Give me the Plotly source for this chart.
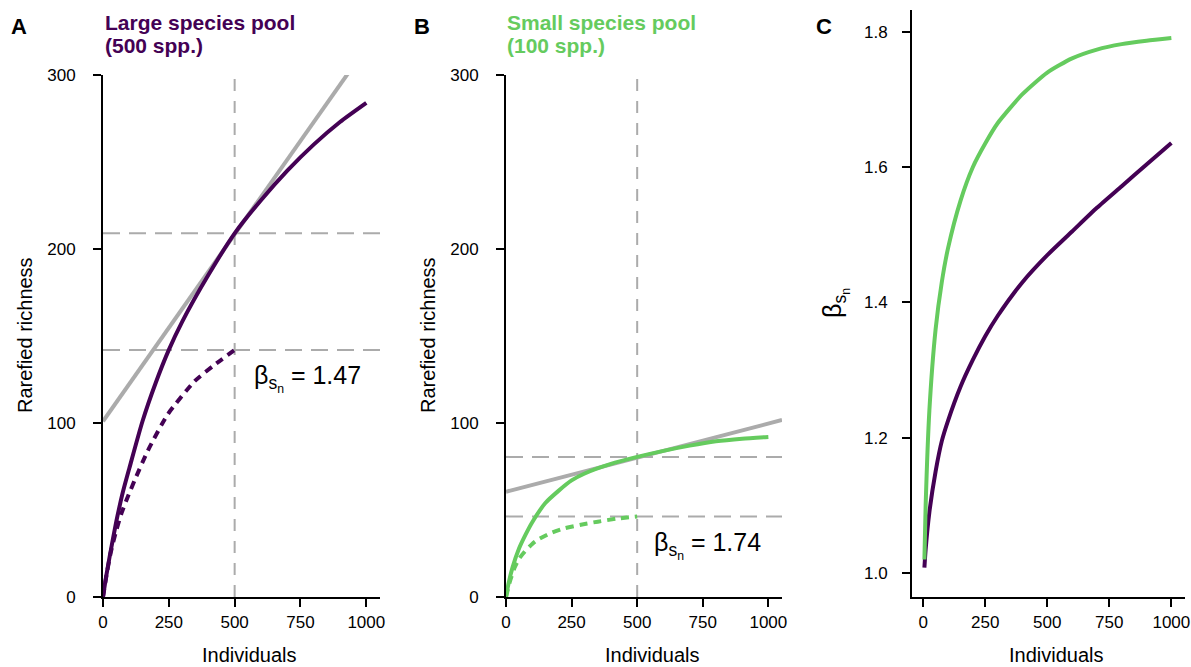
import plotly.graph_objects as go

W, H = 1191, 667
PURPLE = "#440154"
GREEN = "#65CB5E"
GRAY = "#ABABAB"
FONT = "Liberation Sans, Arial, sans-serif"

# ---------------- data ----------------
# Panel A: large species pool (500 spp.)
n_gamma_large = [0, 10, 25, 50, 75, 100, 150, 200, 250, 300, 400, 500, 600, 700, 800, 900, 1000]
gamma_large = [0, 10, 23, 43, 60, 74, 101, 123, 142, 158, 185, 209, 228, 245, 260, 273, 284]
n_alpha_large = [0, 15, 30, 50, 70, 90, 120, 170, 246, 348, 420, 500]
alpha_large = [0, 14, 26, 38, 48, 56, 67, 84, 105, 124, 133, 142]
tangent_large_x = [0, 1052]
tangent_large_y = [101, 327]
ref_large = [209, 142]

# Panel B: small species pool (100 spp.)
n_gamma_small = [0, 10, 25, 50, 75, 100, 150, 200, 250, 300, 400, 500, 600, 700, 800, 900, 1000]
gamma_small = [0, 8, 17, 28, 36, 43, 54, 61, 67, 71, 76.5, 80.5, 84, 87, 89.5, 91, 92]
n_alpha_small = [0, 15, 33, 50, 71, 100, 122, 175, 224, 300, 350, 420, 500]
alpha_small = [0, 9, 17, 22, 26, 30.5, 33, 37, 39.5, 42, 43.3, 45, 46.3]
tangent_small_x = [0, 1052]
tangent_small_y = [60.5, 101.7]
ref_small = [80.5, 46.3]

n_ref = 500
beta_labels = ["1.47", "1.74"]

# Panel C: beta diversity vs individuals
n_beta = [5, 10, 25, 50, 75, 100, 150, 200, 250, 300, 400, 500, 600, 700, 800, 900, 1000]
beta_large = [1.008, 1.035, 1.09, 1.15, 1.195, 1.225, 1.275, 1.315, 1.35, 1.38, 1.43, 1.47,
              1.505, 1.54, 1.572, 1.604, 1.636]
beta_small = [1.02, 1.1, 1.24, 1.36, 1.43, 1.48, 1.55, 1.6, 1.635, 1.665, 1.708, 1.74,
              1.761, 1.774, 1.782, 1.787, 1.791]

x_ticks = [0, 250, 500, 750, 1000]
rich_ticks = [0, 100, 200, 300]
beta_ticks = [1.0, 1.2, 1.4, 1.6, 1.8]
XR_AB = [0, 1052]
YR_AB = [0, 300]
XR_C = [-45, 1055]
YR_C = [0.9645, 1.8325]

fig = go.Figure()


def line(xa, ya, x, y, color, width, dash="solid", spline=True):
    fig.add_trace(go.Scatter(
        x=x, y=y, mode="lines", xaxis=xa, yaxis=ya,
        line=dict(color=color, width=width, dash=dash,
                  shape="spline" if spline else "linear", smoothing=0.6),
        hoverinfo="skip", showlegend=False))


# Panel A
for r in ref_large:
    line("x", "y", XR_AB, [r, r], GRAY, 2, "17px,9px", False)
line("x", "y", [n_ref, n_ref], YR_AB, GRAY, 2, "12px,10px", False)
line("x", "y", tangent_large_x, tangent_large_y, GRAY, 4, spline=False)
line("x", "y", n_alpha_large, alpha_large, PURPLE, 4, "8px,6px")
line("x", "y", n_gamma_large, gamma_large, PURPLE, 4)

# Panel B
for r in ref_small:
    line("x2", "y2", XR_AB, [r, r], GRAY, 2, "17px,9px", False)
line("x2", "y2", [n_ref, n_ref], YR_AB, GRAY, 2, "12px,10px", False)
line("x2", "y2", tangent_small_x, tangent_small_y, GRAY, 4, spline=False)
line("x2", "y2", n_alpha_small, alpha_small, GREEN, 4, "8px,6px")
line("x2", "y2", n_gamma_small, gamma_small, GREEN, 4)

# Panel C
line("x3", "y3", n_beta, beta_large, PURPLE, 4)
line("x3", "y3", n_beta, beta_small, GREEN, 4)


def px_x(p):
    return p / W


def px_y(p):
    return 1 - p / H


axis_common = dict(showline=True, linecolor="black", linewidth=2, ticks="outside",
                   ticklen=8, tickwidth=2, tickcolor="black", showgrid=False,
                   zeroline=False, automargin=False,
                   tickfont=dict(size=17, color="black", family=FONT),
                   fixedrange=True)

fig.update_layout(
    template="none",
    width=W, height=H, margin=dict(l=0, r=0, t=0, b=0, pad=0), autosize=False,
    paper_bgcolor="white", plot_bgcolor="white",
    font=dict(family=FONT, color="black"),
    xaxis=dict(domain=[px_x(103), px_x(380)], range=XR_AB, tickvals=x_ticks,
               anchor="y", ticklabelstandoff=1, **axis_common),
    yaxis=dict(domain=[px_y(597), px_y(75)], range=YR_AB, tickvals=rich_ticks,
               anchor="x", ticklabelstandoff=14, **axis_common),
    xaxis2=dict(domain=[px_x(506), px_x(782)], range=XR_AB, tickvals=x_ticks,
                anchor="y2", ticklabelstandoff=1, **axis_common),
    yaxis2=dict(domain=[px_y(597), px_y(75)], range=YR_AB, tickvals=rich_ticks,
                anchor="x2", ticklabelstandoff=14, **axis_common),
    xaxis3=dict(domain=[px_x(912), px_x(1185)], range=XR_C, tickvals=x_ticks,
                anchor="y3", ticklabelstandoff=1, **axis_common),
    yaxis3=dict(domain=[px_y(597), px_y(10)], range=YR_C, tickvals=beta_ticks,
                tickformat=".1f", anchor="x3", ticklabelstandoff=11, **axis_common),
)


def ann(text, x, y, size, color="black", xanchor="center", yanchor="middle",
        angle=0, bold=False):
    fig.add_annotation(text=f"<b>{text}</b>" if bold else text,
                       x=px_x(x), y=px_y(y), xref="paper", yref="paper",
                       xanchor=xanchor, yanchor=yanchor, showarrow=False,
                       textangle=angle, font=dict(size=size, color=color, family=FONT))


# panel letters
for letter, x in [("A", 9), ("B", 412), ("C", 814)]:
    ann(letter, x, 26, 22, xanchor="left", bold=True)

# titles
ann("Large species pool", 103, 23, 21, PURPLE, xanchor="left", bold=True)
ann("(500 spp.)", 103, 45, 21, PURPLE, xanchor="left", bold=True)
ann("Small species pool", 505, 23, 21, GREEN, xanchor="left", bold=True)
ann("(100 spp.)", 505, 45, 21, GREEN, xanchor="left", bold=True)

# axis titles
for cx in [249, 652, 1056]:
    ann("Individuals", cx, 655, 20)
for cx in [25, 428]:
    ann("Rarefied richness", cx, 335, 20, angle=-90)
ann("β<sub>s<sub>n</sub></sub>", 836, 303, 25, angle=-90)

# beta annotations
ann(f"β<sub>s<sub>n</sub></sub> = {beta_labels[0]}", 252, 378, 25, xanchor="left")
ann(f"β<sub>s<sub>n</sub></sub> = {beta_labels[1]}", 652, 545, 25, xanchor="left")

fig.write_html(
    "out.html",
    config={"displayModeBar": False, "staticPlot": True},
    post_script="document.body.style.margin='0';document.body.style.overflow='hidden';",
)
